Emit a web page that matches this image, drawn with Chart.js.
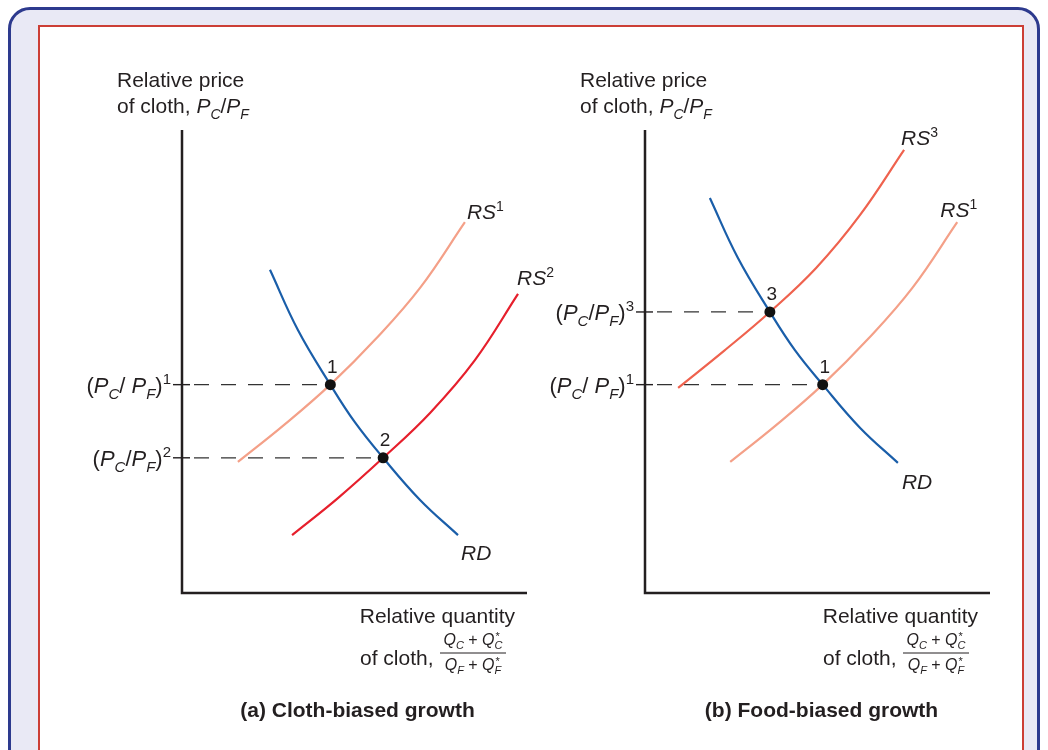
<!DOCTYPE html>
<html>
<head>
<meta charset="utf-8">
<script src="https://cdn.jsdelivr.net/npm/chart.js@4.4.1/dist/chart.umd.min.js"></script>
<style>
  body { margin: 0; background: #fff; width: 1048px; height: 750px; overflow: hidden; position: relative; }
  #outer { position: absolute; left: 8px; top: 7px; width: 1026px; height: 800px; border: 3px solid #2d3a8e; border-radius: 22px; background: #e9e9f5; }
  #inner { position: absolute; left: 38px; top: 25px; width: 982px; height: 800px; border: 2px solid #cc3e36; background: #fff; }
  canvas { position: absolute; left: 0; top: 0; }
</style>
</head>
<body>
<div id="outer"></div>
<div id="inner"></div>
<canvas id="chartA" width="1048" height="750"></canvas>
<canvas id="chartB" width="1048" height="750"></canvas>
<script>
// panel (a) cloth-biased growth
const rdA  = [[2.55, 6.98], [3.36, 5.68], [4.3, 4.5], [5.01, 3.69], [5.83, 2.92], [6.9, 2.01], [8.0, 1.25]];
const rs1A = [[1.62, 2.83], [2.96, 3.63], [4.3, 4.5], [5.62, 5.49], [6.9, 6.59], [8.2, 8.01]];
const rs2A = [[3.19, 1.25], [4.52, 2.05], [5.83, 2.92], [7.19, 3.89], [8.49, 5.03], [9.74, 6.46]];
const eqA = [[4.3, 4.5], [5.83, 2.92]];
const eqNamesA = ['1', '2'];
const tickLabelsA = ['(P_C/ P_F)^1', '(P_C/P_F)^2'];

// panel (b) food-biased growth
const rdB  = [[1.88, 8.53], [2.69, 7.24], [3.62, 6.07], [4.34, 5.25], [5.15, 4.5], [6.23, 3.57], [7.33, 2.81]];
const rs1B = [[2.47, 2.83], [3.81, 3.63], [5.15, 4.5], [6.47, 5.49], [7.75, 6.59], [9.05, 8.01]];
const rs3B = [[0.96, 4.43], [2.29, 5.23], [3.62, 6.07], [4.96, 7.02], [6.23, 8.16], [7.51, 9.57]];
const eqB = [[3.62, 6.07], [5.15, 4.5]];
const eqNamesB = ['3', '1'];
const tickLabelsB = ['(P_C/P_F)^3', '(P_C/ P_F)^1'];

const FONT = '"Liberation Sans", Arial, Helvetica, sans-serif';
const BLUE = '#1a5ea9';
const SALMON = '#f4a088';
const RED = '#e61f2c';
const CORAL = '#ef624e';
const INK = '#231f20';

// turns 'RS^1' or '(P_C/P_F)^2' into styled pieces
function parseRich(str) {
  const parts = [];
  for (let i = 0; i < str.length; i++) {
    const c = str[i];
    let kind;
    let ch = c;
    if (c === '_') { kind = 'sub'; ch = str[++i]; }
    else if (c === '^') { kind = 'sup'; ch = str[++i]; }
    else if (/[A-Z]/.test(c)) kind = 'i';
    else kind = 'n';
    const last = parts[parts.length - 1];
    if (last && last[1] === kind) last[0] += ch;
    else parts.push([ch, kind]);
  }
  return parts;
}

function partStyle(kind, size) {
  const small = Math.round(size * 0.68);
  if (kind === 'i') return { font: 'italic ' + size + 'px ' + FONT, dy: 0 };
  if (kind === 'sub') return { font: 'italic ' + small + 'px ' + FONT, dy: size * 0.27 };
  if (kind === 'sup') return { font: small + 'px ' + FONT, dy: -size * 0.4 };
  if (kind === 'subs') return { font: 'italic ' + small + 'px ' + FONT, dy: size * 0.27 };
  return { font: size + 'px ' + FONT, dy: 0 };
}

function drawRich(ctx, parts, x, y, align, size) {
  let total = 0;
  const widths = parts.map((p) => {
    ctx.font = partStyle(p[1], size).font;
    const w = ctx.measureText(p[0]).width;
    total += w;
    return w;
  });
  let cx = x;
  if (align === 'right') cx = x - total;
  if (align === 'center') cx = x - total / 2;
  ctx.textAlign = 'left';
  ctx.textBaseline = 'alphabetic';
  parts.forEach((p, i) => {
    const st = partStyle(p[1], size);
    ctx.font = st.font;
    ctx.fillText(p[0], cx, y + st.dy);
    if (p[1] === 'subs') {
      ctx.font = Math.round(size * 0.66) + 'px ' + FONT;
      ctx.fillText('*', cx + 1, y - size * 0.3);
    }
    cx += widths[i];
  });
}

function drawFraction(ctx, cx, barY, halfW) {
  const num = [['Q', 'i'], ['C', 'sub'], [' + ', 'n'], ['Q', 'i'], ['C', 'subs']];
  const den = [['Q', 'i'], ['F', 'sub'], [' + ', 'n'], ['Q', 'i'], ['F', 'subs']];
  drawRich(ctx, num, cx, barY - 8, 'center', 16);
  drawRich(ctx, den, cx, barY + 17, 'center', 16);
  ctx.beginPath();
  ctx.lineWidth = 1;
  ctx.moveTo(cx - halfW, barY);
  ctx.lineTo(cx + halfW, barY);
  ctx.stroke();
}

const decoPlugin = {
  id: 'deco',
  beforeDatasetsDraw(chart, args, opts) {
    const ctx = chart.ctx;
    const a = chart.chartArea;
    ctx.save();
    ctx.strokeStyle = INK;
    ctx.lineWidth = 2.5;
    ctx.beginPath();
    ctx.moveTo(a.left, a.top);
    ctx.lineTo(a.left, a.bottom);
    ctx.lineTo(a.right, a.bottom);
    ctx.stroke();

    // ticks for the equilibrium prices
    ctx.lineWidth = 1.4;
    opts.eq.forEach((e) => {
      const py = chart.scales.y.getPixelForValue(e[1]);
      ctx.beginPath();
      ctx.moveTo(a.left - 9, py);
      ctx.lineTo(a.left + 8, py);
      ctx.stroke();
    });
    ctx.restore();
  },
  afterDatasetsDraw(chart, args, opts) {
    const ctx = chart.ctx;
    const a = chart.chartArea;
    const xs = chart.scales.x;
    const ys = chart.scales.y;
    ctx.save();
    ctx.fillStyle = INK;
    ctx.strokeStyle = INK;

    // axis titles
    ctx.font = '21px ' + FONT;
    ctx.textAlign = 'left';
    ctx.textBaseline = 'alphabetic';
    ctx.fillText('Relative price', a.left - 65, a.top - 43);
    drawRich(ctx, parseRich('of cloth, P_C/P_F'), a.left - 65, a.top - 17, 'left', 21);

    ctx.font = '21px ' + FONT;
    ctx.textAlign = 'right';
    ctx.fillText('Relative quantity', a.right - 12, a.bottom + 30);
    ctx.textAlign = 'left';
    ctx.fillText('of cloth,', a.right - 167, a.bottom + 72);
    drawFraction(ctx, a.right - 54, a.bottom + 60, 33);

    // panel title
    ctx.font = 'bold 21px ' + FONT;
    ctx.textAlign = 'center';
    ctx.fillText(opts.title, (a.left + a.right) / 2 + opts.titleShift, 717);

    // tick labels and equilibrium numbers
    opts.eq.forEach((e, i) => {
      const py = ys.getPixelForValue(e[1]);
      const px = xs.getPixelForValue(e[0]);
      drawRich(ctx, parseRich(opts.tickLabels[i]), a.left - 11, py + 8, 'right', 22);
      ctx.font = '19px ' + FONT;
      ctx.textAlign = 'center';
      ctx.textBaseline = 'middle';
      ctx.fillText(opts.eqNames[i], px + 2, py - 17);
      ctx.textBaseline = 'alphabetic';
    });

    // curve names next to curve ends
    chart.data.datasets.forEach((ds) => {
      if (!ds.tag) return;
      const last = ds.data[ds.data.length - 1];
      const px = xs.getPixelForValue(last.x) + ds.tagDx;
      const py = ys.getPixelForValue(last.y) + ds.tagDy;
      drawRich(ctx, parseRich(ds.tag), px, py + 7, 'left', 21);
    });
    ctx.restore();
  }
};

function pts(arr) {
  return arr.map((p) => ({ x: p[0], y: p[1] }));
}

function curve(arr, color, tag, dx, dy) {
  return {
    data: pts(arr),
    showLine: true,
    borderColor: color,
    borderWidth: 2.2,
    pointRadius: 0,
    tension: 0.4,
    clip: false,
    order: 2,
    tag: tag,
    tagDx: dx,
    tagDy: dy
  };
}

function dashes(eq) {
  return eq.map((e) => ({
    data: [{ x: 0, y: e[1] }, { x: e[0], y: e[1] }],
    showLine: true,
    borderColor: '#333',
    borderWidth: 1.3,
    borderDash: [15, 12],
    borderDashOffset: 15,
    pointRadius: 0,
    clip: false,
    order: 3
  }));
}

function dots(eq) {
  return {
    data: pts(eq),
    pointRadius: 5.5,
    pointBackgroundColor: '#111',
    pointBorderWidth: 0,
    clip: false,
    order: 0
  };
}

function makeChart(id, padding, datasets, deco) {
  return new Chart(document.getElementById(id), {
    type: 'scatter',
    data: { datasets: datasets },
    options: {
      responsive: false,
      devicePixelRatio: 1,
      animation: false,
      events: [],
      layout: { padding: padding },
      scales: {
        x: { type: 'linear', min: 0, max: 10, display: false },
        y: { type: 'linear', min: 0, max: 10, display: false }
      },
      plugins: { legend: { display: false }, tooltip: { enabled: false }, deco: deco }
    },
    plugins: [decoPlugin]
  });
}

makeChart('chartA', { left: 182, right: 521, top: 130, bottom: 157 },
  dashes(eqA).concat([
    curve(rs1A, SALMON, 'RS^1', 2, -10),
    curve(rs2A, RED, 'RS^2', -1, -16),
    curve(rdA, BLUE, 'RD', 3, 18),
    dots(eqA)
  ]),
  { title: '(a) Cloth-biased growth', titleShift: 3, eq: eqA, eqNames: eqNamesA, tickLabels: tickLabelsA });

makeChart('chartB', { left: 645, right: 58, top: 130, bottom: 157 },
  dashes(eqB).concat([
    curve(rs1B, SALMON, 'RS^1', -17, -12),
    curve(rs3B, CORAL, 'RS^3', -3, -12),
    curve(rdB, BLUE, 'RD', 4, 19),
    dots(eqB)
  ]),
  { title: '(b) Food-biased growth', titleShift: 4, eq: eqB, eqNames: eqNamesB, tickLabels: tickLabelsB });
</script>
</body>
</html>
